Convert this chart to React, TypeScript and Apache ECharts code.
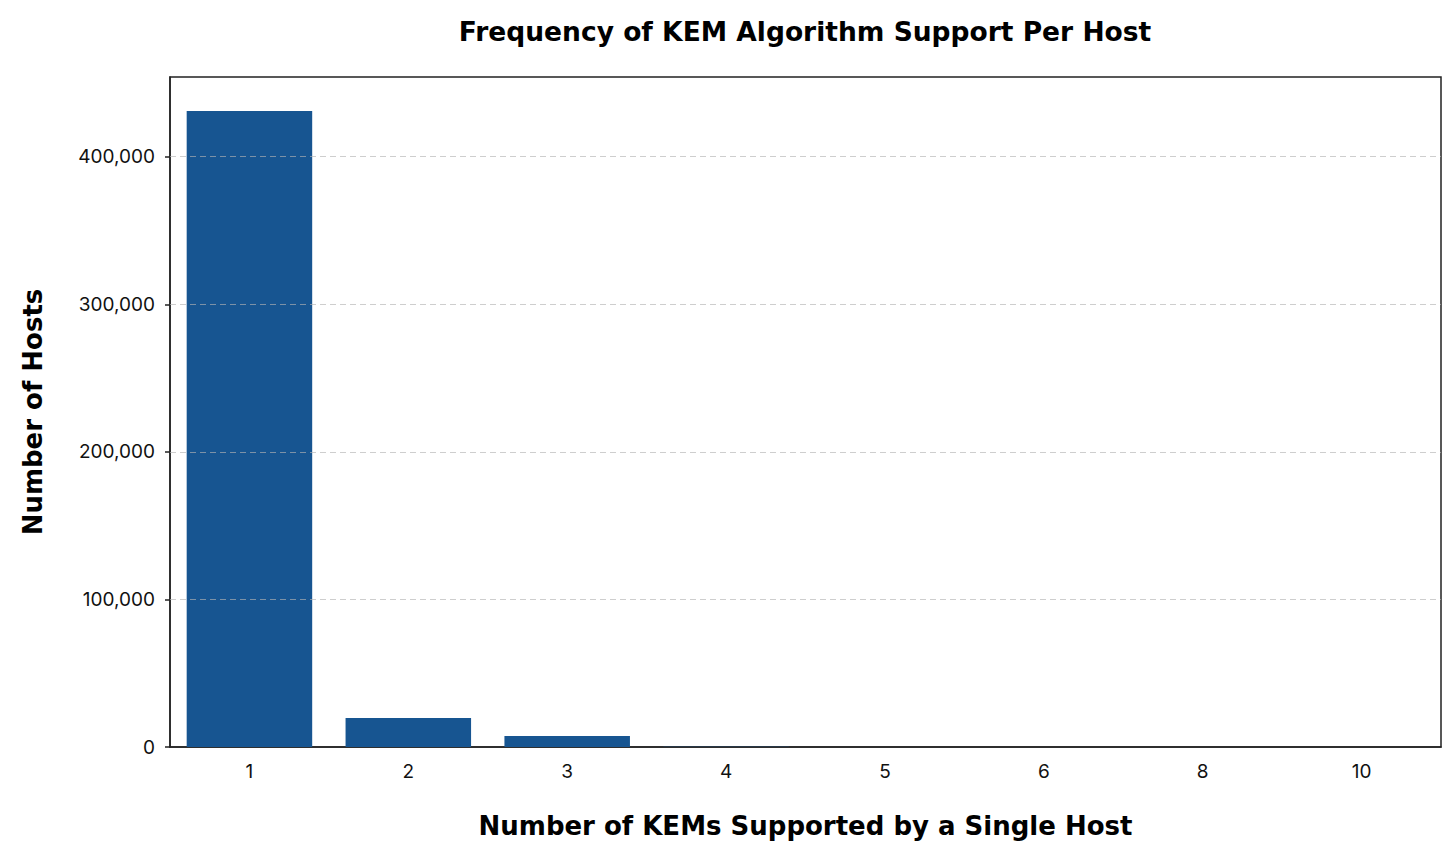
import React, { useEffect, useRef } from 'react';
import * as echarts from 'echarts';

const kemCounts = ['1', '2', '3', '4', '5', '6', '8', '10'];
const hostCounts = [431000, 19700, 7500, 120, 50, 30, 15, 5];
const yTicks = [0, 100000, 200000, 300000, 400000];

const headFont = '"DejaVu Sans", Verdana, sans-serif';

const App: React.FC = () => {
  const chartRef = useRef<HTMLDivElement>(null);

  useEffect(() => {
    document.body.style.margin = '0';
    if (!chartRef.current) return;
    const chart = echarts.init(chartRef.current, null, { renderer: 'svg' });

    const option: echarts.EChartsOption = {
      animation: false,
      backgroundColor: '#ffffff',
      textStyle: { fontFamily: 'Inter, Roboto, sans-serif' },
      title: {
        text: 'Frequency of KEM Algorithm Support Per Host',
        left: 800,
        textAlign: 'center',
        top: 13,
        textStyle: { fontSize: 26.5, fontWeight: 'bold', color: '#000', fontFamily: headFont }
      },
      grid: {
        left: 170,
        right: 15,
        top: 77,
        bottom: 112,
        show: true,
        borderColor: '#222',
        borderWidth: 1.5,
        backgroundColor: 'transparent'
      },
      xAxis: {
        type: 'category',
        data: kemCounts,
        name: 'Number of KEMs Supported by a Single Host',
        nameLocation: 'middle',
        nameGap: 66,
        nameTextStyle: { fontSize: 26, fontWeight: 'bold', color: '#000', fontFamily: headFont },
        axisLine: { lineStyle: { color: '#222', width: 1.5 } },
        axisTick: { alignWithLabel: true, length: 5, lineStyle: { color: '#222', width: 1.5 } },
        axisLabel: { fontSize: 19, color: '#111', margin: 15 },
        splitLine: { show: false }
      },
      yAxis: {
        type: 'value',
        min: 0,
        max: 454000,
        interval: 100000,
        name: 'Number of Hosts',
        nameLocation: 'middle',
        nameGap: 124,
        nameRotate: 90,
        nameTextStyle: { fontSize: 26, fontWeight: 'bold', color: '#000', fontFamily: headFont },
        axisLine: { show: true, lineStyle: { color: '#222', width: 1.5 } },
        axisTick: { show: true, length: 5, lineStyle: { color: '#222', width: 1.5 } },
        axisLabel: {
          fontSize: 19,
          color: '#111',
          margin: 15,
          showMaxLabel: false,
          formatter: (v: number) => (yTicks.includes(v) ? v.toLocaleString('en-US') : '')
        },
        splitLine: { show: false }
      },
      series: [
        {
          type: 'bar',
          data: hostCounts,
          barWidth: '79%',
          itemStyle: { color: '#175591' },
          markLine: {
            silent: true,
            symbol: 'none',
            label: { show: false },
            lineStyle: { color: 'rgba(180,180,180,0.65)', type: [6, 4], width: 1.2 },
            data: yTicks.filter((t) => t > 0).map((t) => ({ yAxis: t }))
          }
        }
      ]
    };

    chart.setOption(option);
    return () => chart.dispose();
  }, []);

  return <div ref={chartRef} style={{ width: 1456, height: 859 }} />;
};

export default App;
